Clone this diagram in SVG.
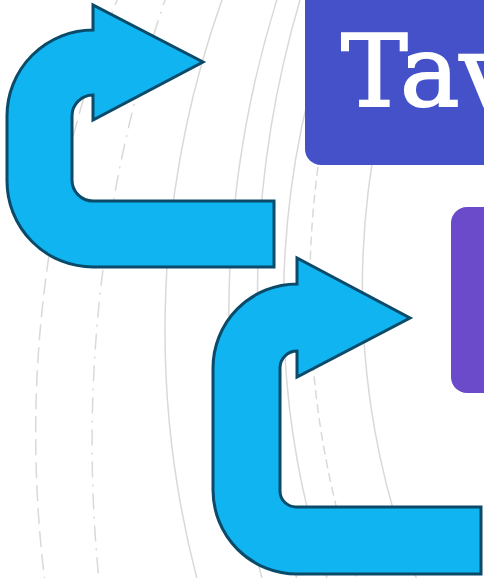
<svg xmlns="http://www.w3.org/2000/svg" width="484" height="578" viewBox="0 0 484 578">
  <style>
    .arc { fill: none; stroke: #d9d9d9; stroke-width: 1.5; }
    .dash { stroke-dasharray: 16 7; }
    .dashdot { stroke-dasharray: 16 7 2 7; }
    .dashs { stroke-dasharray: 9 5; }
    .uturn { fill: #10b4f1; stroke: #0b4a68; stroke-width: 3; stroke-linejoin: miter; }
    .label { font-family: "DejaVu Serif", "Liberation Serif", serif; fill: #ffffff; stroke: #ffffff; stroke-width: 2; }
  </style>
  <rect x="0" y="0" width="484" height="578" fill="#ffffff"/>
  <g id="background">
    <path class="arc dash" d="M121,-10 A1195 1195 0 0 0 46,590"/>
    <path class="arc dashdot" d="M168.4,-10 A1380 1380 0 0 0 100,590"/>
    <path class="arc" d="M225.6,-10 A984 984 0 0 0 200,590"/>
    <path class="arc" d="M280,-10 A1061 1061 0 0 0 265,590"/>
    <path class="arc" d="M303,-10 A1045 1045 0 0 0 300,590"/>
    <path class="arc" d="M342,-10 A878.6 878.6 0 0 0 331,590"/>
    <path class="arc dashs" d="M360,-10 A914.3 914.3 0 0 0 361,590"/>
    <path class="arc" d="M420,-10 A802.7 802.7 0 0 0 421,590"/>
  </g>
  <g id="node-tav">
    <rect x="305" y="-30" width="220" height="195" rx="16" fill="#4451c9"/>
    <text class="label" x="341" y="106" font-size="100">Tav</text>
  </g>
  <g id="node-purple">
    <rect x="451" y="207" width="80" height="186" rx="16" fill="#6b4bc9"/>
  </g>
  <g id="connectors">
    <path id="uturn-1" class="uturn" d="M93,30 L93,5 L203,62 L93,120 L93,95 A21 21 0 0 0 72,116 L72,180 A21 21 0 0 0 93,201 L274,201 L274,267 L93,267 A86 86 0 0 1 7,181 L7,116 A86 86 0 0 1 93,30 Z"/>
    <path id="uturn-2" class="uturn" d="M297,284 L297,258 L410,318 L297,377 L297,351 A17 17 0 0 0 280,368 L280,491 A16 16 0 0 0 296,507 L481,507 L481,574 L297,574 A84 84 0 0 1 213,490 L213,368 A84 84 0 0 1 297,284 Z"/>
  </g>
</svg>
